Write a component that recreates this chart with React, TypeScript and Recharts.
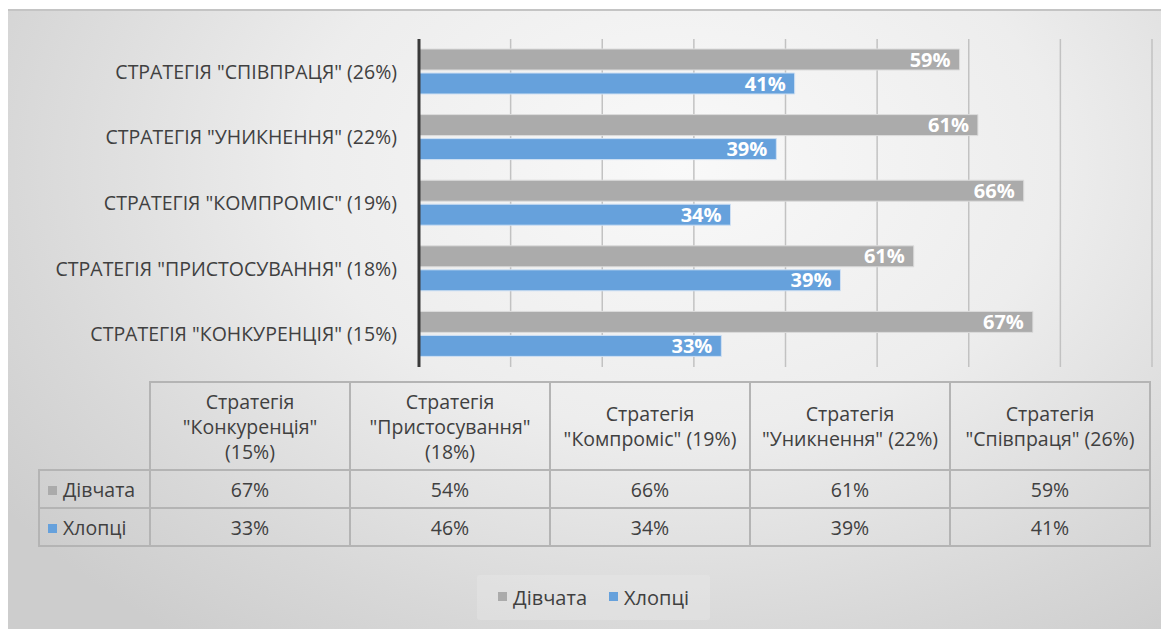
import { BarChart, Bar, XAxis, YAxis, CartesianGrid, LabelList } from "recharts";

const categories = [
  'Стратегія "Конкуренція" (15%)',
  'Стратегія "Пристосування" (18%)',
  'Стратегія "Компроміс" (19%)',
  'Стратегія "Уникнення" (22%)',
  'Стратегія "Співпраця" (26%)',
];
const girls = [67, 54, 66, 61, 59];
const boys = [33, 46, 34, 39, 41];
// labels printed on the bars (as in the original, they differ from the table for one row)
const girlsBarLabels = ["67%", "61%", "66%", "61%", "59%"];
const boysBarLabels = ["33%", "39%", "34%", "39%", "41%"];
const tableHeaderLines = [
  ["Стратегія", '"Конкуренція"', "(15%)"],
  ["Стратегія", '"Пристосування"', "(18%)"],
  ["Стратегія", '"Компроміс" (19%)'],
  ["Стратегія", '"Уникнення" (22%)'],
  ["Стратегія", '"Співпраця" (26%)'],
];
const xTicks = [0, 10, 20, 30, 40, 50, 60, 70, 80];

const GRAY = "#ababab";
const BLUE = "#66a1dc";
const TEXT = "#404040";
const FONT = "'Open Sans', sans-serif";

// top-to-bottom order in the chart is the reverse of the table
const chartData = categories
  .map((name, i) => ({
    name,
    girls: girls[i],
    boys: boys[i],
    girlsLabel: girlsBarLabels[i],
    boysLabel: boysBarLabels[i],
  }))
  .reverse();

const cell = {
  border: "2px solid #b4b4b4",
  textAlign: "center" as const,
  padding: 0,
};

function Swatch({ color }: { color: string }) {
  return (
    <span
      style={{
        display: "inline-block",
        width: 9,
        height: 9,
        background: color,
        marginRight: 6,
        verticalAlign: "middle",
        position: "relative",
        top: -1,
      }}
    />
  );
}

export default function App() {
  const rows = [
    { name: "Дівчата", color: GRAY, values: girls },
    { name: "Хлопці", color: BLUE, values: boys },
  ];
  return (
    <div
      style={{
        position: "relative",
        top: 1,
        width: 1161,
        height: 621,
        fontFamily: FONT,
        color: TEXT,
        background:
          "radial-gradient(ellipse 72% 95% at 58% 25%, #f9f9f9 0%, #ededed 45%, #d8d8d8 80%, #cdcdcd 100%)",
        overflow: "hidden",
      }}
    >
      <div style={{ position: "absolute", left: 0, top: 0, width: 1161, height: 2, background: "#c4c4c4" }} />
      <div style={{ position: "absolute", left: 0, top: 0 }}>
        <BarChart
          width={1161}
          height={360}
          data={chartData}
          layout="vertical"
          margin={{ top: 30, right: 17, left: 0, bottom: 2 }}
          barSize={21}
          barGap={3}
        >
          <CartesianGrid horizontal={false} stroke="#c2c2c2" strokeWidth={1.5} />
          <XAxis type="number" domain={[0, 80]} ticks={xTicks} hide />
          <YAxis
            type="category"
            dataKey="name"
            width={411}
            axisLine={{ stroke: "#3a3a3a", strokeWidth: 3 }}
            tickLine={false}
            tickSize={0}
            tickMargin={22}
            tickFormatter={(v: string) => v.toUpperCase()}
            tick={{ fill: TEXT, fontSize: 19.5, fontFamily: FONT }}
          />
          <Bar dataKey="girls" fill={GRAY} stroke="#dcdcdc" strokeWidth={1} isAnimationActive={false}>
            <LabelList
              dataKey="girlsLabel"
              position="insideRight"
              offset={9}
              fill="#ffffff"
              fontSize={20}
              fontWeight="bold"
              fontFamily={FONT}
            />
          </Bar>
          <Bar dataKey="boys" fill={BLUE} stroke="#cfe0f3" strokeWidth={1} isAnimationActive={false}>
            <LabelList
              dataKey="boysLabel"
              position="insideRight"
              offset={9}
              fill="#ffffff"
              fontSize={20}
              fontWeight="bold"
              fontFamily={FONT}
            />
          </Bar>
        </BarChart>
      </div>

      <table
        style={{
          position: "absolute",
          left: 30,
          top: 372,
          borderCollapse: "collapse",
          fontSize: 19.5,
          fontFamily: FONT,
          color: TEXT,
          tableLayout: "fixed",
        }}
      >
        <colgroup>
          <col style={{ width: 111 }} />
          {categories.map((c) => (
            <col key={c} style={{ width: 200 }} />
          ))}
        </colgroup>
        <tbody>
          <tr style={{ height: 88 }}>
            <td style={{ border: "none", borderBottom: cell.border, borderRight: cell.border }} />
            {tableHeaderLines.map((lines, i) => (
              <td key={i} style={{ ...cell, lineHeight: "25px", whiteSpace: "nowrap" }}>
                {lines.map((l, j) => (
                  <div key={j}>{l}</div>
                ))}
              </td>
            ))}
          </tr>
          {rows.map((r) => (
            <tr key={r.name} style={{ height: 38 }}>
              <td style={{ ...cell, textAlign: "left", paddingLeft: 8, whiteSpace: "nowrap" }}>
                <Swatch color={r.color} />
                {r.name}
              </td>
              {r.values.map((v, i) => (
                <td key={i} style={cell}>
                  {v}%
                </td>
              ))}
            </tr>
          ))}
        </tbody>
      </table>

      <div
        style={{
          position: "absolute",
          left: 469,
          top: 566,
          width: 233,
          height: 45,
          background: "rgba(235,235,235,0.35)",
          borderRadius: 3,
          display: "flex",
          alignItems: "center",
          justifyContent: "center",
          fontSize: 20,
          gap: 22,
        }}
      >
        {rows.map((r) => (
          <span key={r.name} style={{ display: "flex", alignItems: "center" }}>
            <Swatch color={r.color} />
            {r.name}
          </span>
        ))}
      </div>
    </div>
  );
}
